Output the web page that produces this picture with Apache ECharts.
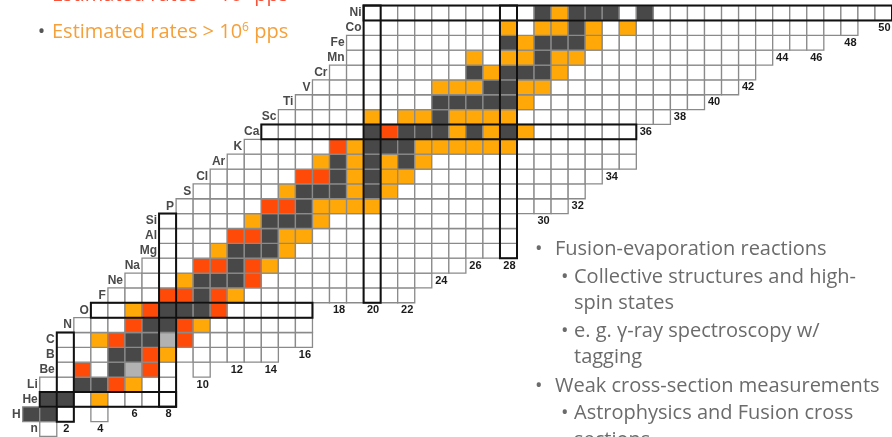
<!DOCTYPE html>
<html>
<head>
<meta charset="utf-8">
<script src="https://cdn.jsdelivr.net/npm/echarts@6/dist/echarts.min.js"></script>
<style>
html,body{margin:0;padding:0;background:#fff;}
#chart{width:892px;height:437px;}
</style>
</head>
<body>
<div id="chart"></div>
<script>
// ---- DATA ----
// element symbol for each proton number Z (index = Z)
const elements = ['n','H','He','Li','Be','B','C','N','O','F','Ne','Na','Mg','Al','Si','P','S','Cl','Ar','K','Ca','Sc','Ti','V','Cr','Mn','Fe','Co','Ni'];
// first and last neutron number drawn on each row (index = Z)
const rowStartN = [1,0,1,1,2,2,2,3,4,5,6,7,8,8,8,9,10,11,12,13,14,15,16,17,18,19,19,20,20];
const rowEndN   = [1,4,8,8,10,14,16,16,16,22,23,25,28,28,28,31,32,33,35,35,35,37,39,41,42,43,46,48,50];
// cells not drawn inside a row range: [N, Z]
const missingCells = [[3,1],[9,4]];
// stable nuclides: [N, Z]
const stableCells = [
  [0,1],[1,1],[1,2],[2,2],[3,3],[4,3],[5,4],[5,5],[6,5],[6,6],[7,6],[7,7],[8,7],
  [8,8],[9,8],[10,8],[10,9],[10,10],[11,10],[12,10],[12,11],[12,12],[13,12],[14,12],
  [14,13],[14,14],[15,14],[16,14],[16,15],[16,16],[17,16],[18,16],[20,16],[18,17],[20,17],
  [18,18],[20,18],[22,18],[20,19],[21,19],[22,19],[20,20],[22,20],[23,20],[24,20],[26,20],[28,20],
  [24,21],[24,22],[25,22],[26,22],[27,22],[28,22],[27,23],[28,23],[26,24],[28,24],[29,24],[30,24],
  [30,25],[28,26],[30,26],[31,26],[32,26],[32,27],[30,28],[32,28],[33,28],[34,28],[36,28]
];
// estimated rates > 10^8 pps (red): [N, Z]
const redCells = [
  [5,3],[3,4],[7,4],[7,5],[5,6],[9,6],[6,7],[9,7],[7,8],[11,8],[8,9],[9,9],[11,9],
  [13,10],[10,11],[11,11],[13,11],[12,13],[13,13],[14,15],[15,15],[16,17],[17,17],[18,19],[21,20]
];
// estimated rates > 10^6 pps (orange): [N, Z]
const orangeCells = [
  [4,2],[6,3],[8,5],[4,6],[10,7],[6,8],[12,9],[9,10],[14,11],[11,12],[15,12],[15,13],[16,13],
  [13,14],[17,14],[17,15],[18,15],[19,15],[20,15],[15,16],[19,16],[21,16],[19,17],[21,17],[22,17],
  [17,18],[19,18],[21,18],[23,18],[19,19],[23,19],[24,19],[25,19],[26,19],[27,19],[28,19],
  [25,20],[27,20],[29,20],[20,21],[22,21],[23,21],[25,21],[26,21],[27,21],[28,21],[29,22],
  [24,23],[25,23],[26,23],[29,23],[30,23],[27,24],[31,24],[26,25],[28,25],[29,25],[31,25],[32,25],
  [29,26],[33,26],[28,27],[30,27],[31,27],[33,27],[35,27],[31,28]
];
// long-lived / special (light grey): [N, Z]
const greyCells = [[6,4],[8,6]];
// magic numbers (thick outlines)
const magicN = [2,8,20,28];
const magicZ = [2,8,20,28];
// neutron number tick labels
const nTickLabels = [2,4,6,8,10,12,14,16,18,20,22,24,26,28,30,32,34,36,38,40,42,44,46,48,50];

// ---- BUILD ----
const typeColors = ['#ffffff','#484848','#ff4a08','#ffa808','#b2b2b2'];
const key = (n,z) => n + ',' + z;
const typeMap = {};
stableCells.forEach(c => typeMap[key(c[0],c[1])] = 1);
redCells.forEach(c => typeMap[key(c[0],c[1])] = 2);
orangeCells.forEach(c => typeMap[key(c[0],c[1])] = 3);
greyCells.forEach(c => typeMap[key(c[0],c[1])] = 4);
const missing = {};
missingCells.forEach(c => missing[key(c[0],c[1])] = true);

const cellData = [];
const colMin = {}, colMax = {};
for (let z = 0; z < elements.length; z++) {
  for (let n = rowStartN[z]; n <= rowEndN[z]; n++) {
    if (missing[key(n,z)]) continue;
    cellData.push([n, z, typeMap[key(n,z)] || 0]);
    colMin[n] = colMin[n] === undefined ? z : Math.min(colMin[n], z);
    colMax[n] = colMax[n] === undefined ? z : Math.max(colMax[n], z);
  }
}
// magic outlines: [nMin, nMax, zMin, zMax]
const magicData = [];
magicZ.forEach(z => magicData.push([rowStartN[z], rowEndN[z], z, z]));
magicN.forEach(n => magicData.push([n, n, colMin[n], colMax[n]]));

const elemLabelData = elements.map((e, z) => [rowStartN[z], z, e]);
const nLabelData = nTickLabels.map(n => [n, colMin[n] - 1, String(n)]);

const chart = echarts.init(document.getElementById('chart'), null, {renderer: 'canvas'});
const textGrey = '#6b6b6b';
const fontMain = '"Open Sans", "Noto Sans", sans-serif';

function rightText(x, y, txt) {
  return {type: 'text', x: x, y: y, style: {text: txt, fill: textGrey, fontSize: 20, fontFamily: fontMain, align: 'left', verticalAlign: 'middle'}};
}

const option = {
  animation: false,
  backgroundColor: '#ffffff',
  grid: {left: 22.7, right: 0, top: 5.6, bottom: 0.5, containLabel: false},
  xAxis: {type: 'value', min: -0.5, max: 50.5, show: false},
  yAxis: {type: 'value', min: -0.5, max: 28.5, show: false},
  series: [
    {
      type: 'custom', z: 1, data: cellData,
      renderItem: function (params, api) {
        const n = api.value(0), z = api.value(1), t = api.value(2);
        const p0 = api.coord([n - 0.5, z + 0.5]);
        const p1 = api.coord([n + 0.5, z - 0.5]);
        return {type: 'rect', shape: {x: p0[0], y: p0[1], width: p1[0] - p0[0], height: p1[1] - p0[1]},
          style: {fill: typeColors[t], stroke: '#8a8a8a', lineWidth: 1.3}};
      }
    },
    {
      type: 'custom', z: 2, data: magicData,
      renderItem: function (params, api) {
        const p0 = api.coord([api.value(0) - 0.5, api.value(3) + 0.5]);
        const p1 = api.coord([api.value(1) + 0.5, api.value(2) - 0.5]);
        return {type: 'rect', shape: {x: p0[0], y: p0[1], width: p1[0] - p0[0], height: p1[1] - p0[1]},
          style: {fill: 'none', stroke: '#111', lineWidth: 2}};
      }
    },
    {
      type: 'custom', z: 3, data: elemLabelData,
      renderItem: function (params, api) {
        const p = api.coord([api.value(0) - 0.5, api.value(1)]);
        return {type: 'text', x: p[0] - 2, y: p[1],
          style: {text: elemLabelData[params.dataIndex][2], fill: '#4a4a4a', font: 'bold 12px "Liberation Sans", Arial, sans-serif', align: 'right', verticalAlign: 'middle'}};
      }
    },
    {
      type: 'custom', z: 3, data: nLabelData,
      renderItem: function (params, api) {
        const p = api.coord([api.value(0), api.value(1)]);
        return {type: 'text', x: p[0] + 1, y: p[1],
          style: {text: nLabelData[params.dataIndex][2], fill: '#1a1a1a', font: 'bold 11px "Liberation Sans", Arial, sans-serif', align: 'center', verticalAlign: 'middle'}};
      }
    }
  ],
  graphic: [
    {type: 'text', x: 52, y: -5, style: {
      text: '{a|Estimated rates > 10}{s|8}{a| pps}', align: 'left', verticalAlign: 'middle',
      rich: {a: {fontSize: 20, fontFamily: fontMain, fill: '#f4543c'}, s: {fontSize: 12, fontFamily: fontMain, fill: '#f4543c', verticalAlign: 'top'}}}},
    {type: 'text', x: 41.5, y: 32, style: {text: '•', fill: '#555555', fontSize: 20, fontFamily: fontMain, align: 'center', verticalAlign: 'middle'}},
    {type: 'text', x: 52, y: 32, style: {
      text: '{a|Estimated rates > 10}{s|6}{a| pps}', align: 'left', verticalAlign: 'middle',
      rich: {a: {fontSize: 20, fontFamily: fontMain, fill: '#f5a03a'}, s: {fontSize: 12, fontFamily: fontMain, fill: '#f5a03a', verticalAlign: 'top'}}}},
    rightText(535, 249, '•'),
    rightText(555, 249, 'Fusion-evaporation reactions'),
    rightText(561, 277, '•'),
    rightText(574, 277, 'Collective structures and high-'),
    rightText(574, 303, 'spin states'),
    rightText(561, 331, '•'),
    rightText(574, 331, 'e. g. γ-ray spectroscopy w/'),
    rightText(574, 357, 'tagging'),
    rightText(535, 386, '•'),
    rightText(555, 386, 'Weak cross-section measurements'),
    rightText(561, 413, '•'),
    rightText(574, 413, 'Astrophysics and Fusion cross'),
    rightText(574, 440, 'sections')
  ]
};
chart.setOption(option);
</script>
</body>
</html>
